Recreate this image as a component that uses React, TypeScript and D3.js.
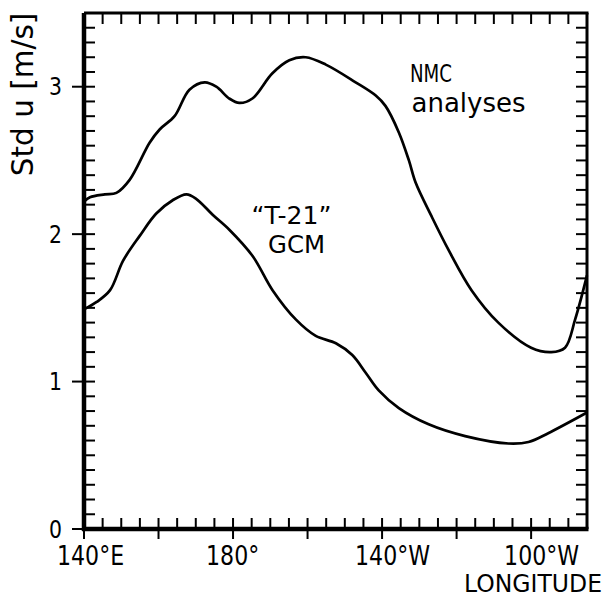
import React from "react";
import * as d3 from "d3";

// Longitude in degrees east (180 = dateline, 260 = 100°W)
const lonNMC = [140, 141.6, 145.6, 148.7, 152.3, 157.6, 160.3, 164.3, 168.3, 172.4, 175.5, 179, 181.7, 185.2, 190.5, 195.1, 199.5, 204.9, 212.9, 218.3, 220.9, 224.5, 227.2, 229, 233.3, 237.9, 244, 251.2, 260, 265.4, 269.1, 271.8, 275];
const stdNMC = [2.22, 2.25, 2.27, 2.28, 2.37, 2.62, 2.71, 2.8, 2.98, 3.03, 3.0, 2.92, 2.89, 2.92, 3.09, 3.18, 3.2, 3.15, 3.03, 2.94, 2.87, 2.69, 2.5, 2.35, 2.12, 1.89, 1.62, 1.4, 1.23, 1.2, 1.23, 1.42, 1.72];

const lonGCM = [140, 143.4, 147, 150.5, 155, 159.4, 163.8, 167.5, 170.1, 174.6, 179, 185.3, 190.6, 196.9, 202.2, 207.6, 212, 215.6, 219.1, 224.5, 232.5, 242.3, 253.9, 259.3, 264.6, 275];
const stdGCM = [1.49, 1.54, 1.62, 1.82, 1.99, 2.14, 2.23, 2.27, 2.24, 2.13, 2.03, 1.85, 1.62, 1.42, 1.31, 1.26, 1.18, 1.06, 0.94, 0.82, 0.71, 0.63, 0.58, 0.59, 0.65, 0.79];

const xLabelLon = [140, 180, 220, 260];
const xLabels = ["140°E", "180°", "140°W", "100°W"];
const yLabelValues = [0, 1, 2, 3];

const W = 609;
const H = 597;
const FONT = "DejaVu Sans";

export default function App() {
  const x = d3.scaleLinear().domain([140, 275]).range([84, 587]);
  const y = d3.scaleLinear().domain([0, 3.5]).range([529, 13]);

  const line = d3
    .line<[number, number]>()
    .x((d) => x(d[0]))
    .y((d) => y(d[1]))
    .curve(d3.curveCatmullRom.alpha(0.5));

  const nmc = lonNMC.map((l, i) => [l, stdNMC[i]] as [number, number]);
  const gcm = lonGCM.map((l, i) => [l, stdGCM[i]] as [number, number]);

  const x0 = x(140), x1 = x(275), yb = y(0), yt = y(3.5);
  const lonTicks = d3.range(145, 275, 5);
  const valTicks = d3.range(1, 35).map((k) => k / 10);
  const lonMajors = d3.range(140, 275, 20);

  return (
    <svg
      width={W}
      height={H}
      style={{ position: "absolute", left: 0, top: 0, background: "#fff" }}
      fontFamily={FONT}
    >
      <rect width={W} height={H} fill="#fff" />

      {/* inward ticks on all four sides */}
      <g stroke="#000" strokeWidth={2}>
        {lonTicks.map((l) => (
          <line key={"b" + l} x1={x(l)} x2={x(l)} y1={yb} y2={yb - 11} />
        ))}
        {lonTicks.map((l) => (
          <line key={"t" + l} x1={x(l)} x2={x(l)} y1={yt} y2={yt + 11} />
        ))}
        {lonMajors.map((l) => (
          <line key={"m" + l} x1={x(l)} x2={x(l)} y1={yb} y2={yb + 10} />
        ))}
        {valTicks.map((v) => (
          <line key={"l" + v} x1={x0} x2={x0 + 11} y1={y(v)} y2={y(v)} />
        ))}
        {valTicks.map((v) => (
          <line key={"r" + v} x1={x1} x2={x1 - 11} y1={y(v)} y2={y(v)} />
        ))}
        {yLabelValues.map((v) => (
          <line key={"o" + v} x1={x0 - 12} x2={x0} y1={y(v)} y2={y(v)} />
        ))}
      </g>

      {/* frame */}
      <line x1={x0} x2={x0} y1={yt} y2={yb + 2} stroke="#000" strokeWidth={4.5} />
      <line x1={x0 - 2} x2={x1 + 1.5} y1={yb} y2={yb} stroke="#000" strokeWidth={4.5} />
      <line x1={x0} x2={x1 + 1.5} y1={yt} y2={yt} stroke="#000" strokeWidth={3} />
      <line x1={x1} x2={x1} y1={yt} y2={yb} stroke="#000" strokeWidth={3} />

      {/* curves */}
      <path d={line(nmc) || ""} fill="none" stroke="#000" strokeWidth={2.7} />
      <path d={line(gcm) || ""} fill="none" stroke="#000" strokeWidth={2.7} />

      {/* y tick labels */}
      {yLabelValues.map((v) => (
        <text
          key={"yl" + v}
          transform={`translate(62,${y(v) + 8.5}) scale(0.85,1)`}
          textAnchor="end"
          fontSize={24}
          fill="#000"
        >
          {v}
        </text>
      ))}

      {/* x tick labels */}
      {xLabelLon.map((l, i) => (
        <text
          key={"xl" + l}
          transform={`translate(${x(l) - 27},565) scale(0.85,1)`}
          textAnchor="start"
          fontSize={26}
          fill="#000"
        >
          {xLabels[i]}
        </text>
      ))}

      {/* axis titles */}
      <text
        transform="translate(33,94.5) rotate(-90)"
        textAnchor="middle"
        fontSize={29.5}
        fill="#000"
      >
        Std u [m/s]
      </text>
      <text
        transform="translate(602,592) scale(0.98,1)"
        textAnchor="end"
        fontSize={24}
        fill="#000"
      >
        LONGITUDE
      </text>

      {/* curve labels */}
      <text x={410} y={82} fontSize={24} textLength={42} lengthAdjust="spacingAndGlyphs" fill="#000">
        NMC
      </text>
      <text x={411.5} y={111.5} fontSize={26} fill="#000">
        analyses
      </text>
      <text x={251.5} y={224} fontSize={24} textLength={80} lengthAdjust="spacingAndGlyphs" fill="#000">
        {"\u201CT-21\u201D"}
      </text>
      <text x={268} y={252.5} fontSize={24.5} textLength={57} lengthAdjust="spacingAndGlyphs" fill="#000">
        GCM
      </text>
    </svg>
  );
}
